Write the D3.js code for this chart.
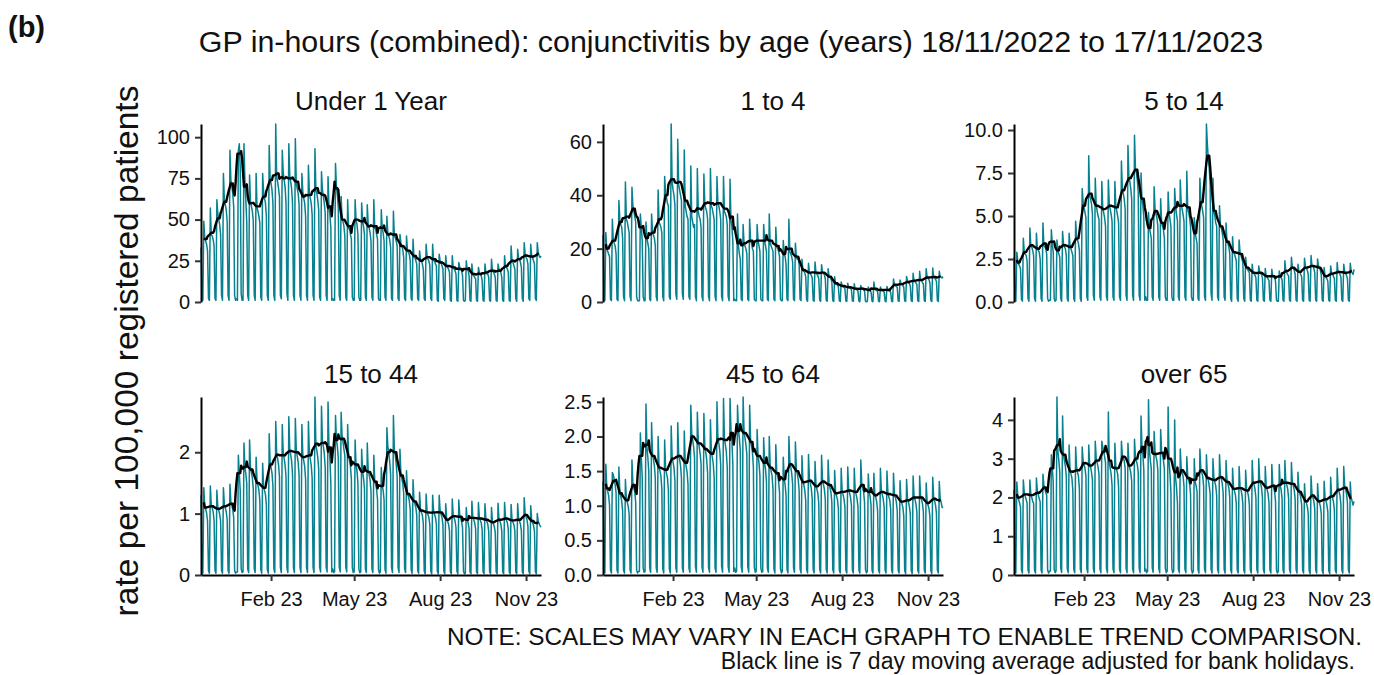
<!DOCTYPE html>
<html>
<head>
<meta charset="utf-8">
<script src="https://cdn.jsdelivr.net/npm/d3@7"></script>
<style>
  body { margin: 0; background: #fff; }
  svg text { font-family: "Liberation Sans", Arial, sans-serif; }
</style>
</head>
<body>
<svg id="chart" width="1374" height="675"></svg>
<script>
// Daily rates per 100,000 registered patients, 18/11/2022 to 17/11/2023.
// Rows: first line is Fri-Sun 18-20 Nov 2022, then one line per Mon..Sun week.
const startDate = "2022-11-18";
const bankHolidays = ["2022-12-25", "2022-12-26", "2022-12-27", "2023-01-02", "2023-04-07",
  "2023-04-10", "2023-05-01", "2023-05-08", "2023-05-29", "2023-08-28"];
const panelTitles = ["Under 1 Year", "1 to 4", "5 to 14", "15 to 44", "45 to 64", "over 65"];

const under1 = [
  33, 2, 1,
  49, 39, 37, 35, 31, 2, 1,
  57, 41, 40, 38, 34, 2, 1,
  62, 54, 50, 47, 41, 4, 1,
  78, 62, 59, 56, 49, 4, 1,
  92, 74, 70, 66, 58, 4, 1,
  2, 1, 92, 96, 82, 5, 1,
  1, 96, 74, 62, 48, 4, 1,
  77, 61, 58, 55, 49, 4, 1,
  78, 57, 55, 52, 48, 3, 1,
  78, 67, 63, 60, 52, 4, 1,
  95, 75, 72, 68, 60, 4, 1,
  108, 76, 73, 69, 64, 4, 2,
  92, 79, 74, 70, 60, 5, 1,
  96, 77, 73, 69, 60, 4, 1,
  99, 72, 69, 66, 59, 4, 1,
  78, 67, 63, 60, 52, 4, 1,
  83, 66, 63, 60, 53, 4, 1,
  93, 68, 66, 62, 56, 3, 1,
  79, 68, 64, 60, 54, 4, 1,
  76, 58, 53, 45, 1, 2, 1,
  1, 84, 70, 65, 57, 4, 1,
  64, 51, 49, 46, 40, 3, 1,
  62, 45, 44, 41, 38, 3, 1,
  1, 62, 50, 47, 41, 3, 1,
  1, 60, 49, 46, 41, 3, 1,
  59, 47, 45, 42, 37, 3, 1,
  62, 45, 44, 41, 38, 2, 1,
  1, 56, 45, 42, 37, 3, 1,
  52, 42, 40, 38, 33, 2, 1,
  55, 40, 39, 37, 34, 2, 1,
  41, 36, 34, 32, 27, 2, 1,
  40, 32, 30, 29, 25, 2, 1,
  38, 27, 27, 25, 23, 2, 1,
  31, 26, 25, 23, 20, 2, 1,
  35, 28, 26, 25, 22, 2, 1,
  35, 25, 25, 23, 22, 1, 0.5,
  29, 25, 24, 22, 20, 2, 1,
  28, 22, 21, 20, 18, 1, 0.5,
  28, 21, 20, 19, 17, 1, 0.5,
  24, 21, 20, 19, 16, 1, 0.5,
  1, 25, 20, 19, 16, 1, 0.5,
  23, 17, 16, 15, 14, 1, 0.5,
  21, 18, 17, 16, 13, 1, 0.5,
  23, 18, 17, 17, 15, 1, 0.5,
  26, 19, 18, 17, 15, 1, 0.5,
  23, 20, 19, 18, 15, 1, 0.5,
  28, 22, 21, 20, 18, 1, 0.5,
  34, 25, 24, 22, 20, 2, 0.5,
  32, 27, 26, 24, 21, 2, 0.5,
  36, 29, 27, 26, 23, 2, 1,
  35, 28, 27, 25, 23, 2, 1,
  36, 30, 28, 27, 28
];

const age1to4 = [
  25, 1, 0.5,
  26, 20, 19, 18, 17, 1, 0.5,
  31, 23, 22, 21, 18, 1, 0.5,
  38, 31, 29, 28, 24, 2, 0.5,
  45, 31, 30, 28, 26, 2, 0.5,
  43, 36, 34, 32, 30, 2, 0.5,
  0.5, 0.5, 33, 28, 23, 2, 0.5,
  0.5, 30, 24, 22, 20, 1, 0.5,
  33, 27, 25, 24, 21, 2, 0.5,
  42, 30, 29, 28, 26, 2, 0.5,
  47, 41, 39, 37, 36, 2, 1,
  66.7, 45, 42, 40, 36.3, 3, 1,
  61, 44, 42, 40, 38, 3, 1,
  57, 36, 34, 32, 31, 2, 1,
  51, 32, 30, 28, 29, 2, 0.5,
  50, 34, 32, 31, 28, 2, 0.5,
  48, 37, 35, 34, 31, 2, 0.5,
  50, 36, 35, 33, 31, 2, 0.5,
  47, 37, 36, 34, 31, 2, 0.5,
  47, 34, 33, 32, 29, 2, 0.5,
  46, 31, 28, 23, 0.5, 1, 0.5,
  0.5, 33, 21, 18, 16, 1, 0.5,
  29, 22, 21, 20, 18, 1, 0.5,
  31, 23, 22, 20, 19, 1, 0.5,
  0.5, 29, 23, 21, 19, 1, 0.5,
  0.5, 29, 23, 21, 19, 1, 0.5,
  33, 22, 21, 20, 19, 1, 0.5,
  28, 21, 20, 19, 17, 1, 0.5,
  0.5, 23, 18, 17, 14, 1, 0.5,
  31, 19, 18, 17, 15, 1, 0.5,
  22, 17, 16, 16, 14, 1, 0.5,
  16, 12, 11.5, 11, 9.5, 0.8, 0.3,
  14.5, 11, 10.5, 10, 9, 0.7, 0.3,
  15, 11, 10.5, 9.8, 8.7, 0.7, 0.3,
  14, 11.3, 10.8, 10.2, 8.7, 0.7, 0.3,
  12.5, 9.6, 9.2, 8.7, 7.5, 0.6, 0.2,
  9.5, 6.9, 6.6, 6.3, 5.7, 0.5, 0.2,
  7.5, 6.2, 5.8, 5.5, 5.0, 0.4, 0.2,
  7, 5.6, 5.3, 5.1, 4.5, 0.4, 0.2,
  6.8, 4.9, 4.8, 4.5, 4.0, 0.3, 0.1,
  6.2, 5.2, 4.9, 4.6, 4.1, 0.3, 0.1,
  0.2, 5.6, 4.5, 4.2, 3.7, 0.3, 0.1,
  7.5, 4.8, 4.5, 4.3, 3.9, 0.3, 0.1,
  5.6, 4.6, 4.4, 4.1, 3.8, 0.3, 0.1,
  5.8, 4.6, 4.4, 4.1, 3.6, 0.3, 0.1,
  8.6, 6.4, 6.2, 5.8, 5.5, 0.4, 0.2,
  8.2, 7.0, 6.6, 6.2, 5.5, 0.4, 0.2,
  9.6, 7.7, 7.3, 6.9, 6.0, 0.5, 0.2,
  10.8, 7.8, 7.6, 7.2, 6.6, 0.5, 0.2,
  11.5, 8.1, 7.8, 7.4, 6.7, 0.5, 0.2,
  12.5, 9.2, 8.8, 8.4, 7.1, 0.6, 0.2,
  12.7, 9.2, 8.9, 8.5, 7.7, 0.6, 0.2,
  11.5, 9.6, 9.3, 9.0, 9.5
];

const age5to14 = [
  2.6, 0.15, 0.05,
  2.9, 2.4, 2.2, 2.1, 1.9, 0.15, 0.05,
  3.7, 2.9, 2.8, 2.7, 2.4, 0.2, 0.05,
  4.3, 3.3, 3.2, 3.0, 2.7, 0.2, 0.05,
  4.0, 3.1, 3.0, 2.9, 2.5, 0.2, 0.05,
  4.6, 3.3, 3.2, 3.1, 2.8, 0.2, 0.05,
  0.1, 0.1, 4.2, 3.4, 2.9, 0.2, 0.05,
  0.1, 3.6, 3.0, 2.8, 2.6, 0.2, 0.05,
  4.1, 3.4, 3.2, 3.1, 2.7, 0.2, 0.05,
  4.0, 3.3, 3.1, 2.9, 2.7, 0.2, 0.05,
  4.7, 3.8, 3.6, 3.4, 3.0, 0.2, 0.05,
  6.6, 5.8, 5.5, 5.2, 4.9, 0.3, 0.1,
  8.5, 6.2, 6.0, 5.7, 5.1, 0.4, 0.1,
  7.2, 5.7, 5.3, 5.0, 4.8, 0.3, 0.1,
  7.0, 5.5, 5.2, 4.9, 4.4, 0.3, 0.1,
  7.1, 5.7, 5.4, 5.1, 4.7, 0.3, 0.1,
  7.0, 5.6, 5.3, 5.0, 4.6, 0.3, 0.1,
  8.2, 6.6, 6.3, 6.0, 5.4, 0.4, 0.1,
  9.1, 7.3, 7.0, 6.6, 6.0, 0.4, 0.1,
  9.7, 7.8, 7.5, 7.1, 6.4, 0.4, 0.1,
  7.5, 6.0, 5.6, 4.9, 0.1, 0.3, 0.1,
  0.1, 5.2, 4.3, 4.0, 3.7, 0.3, 0.1,
  6.7, 5.4, 5.1, 4.9, 4.4, 0.3, 0.1,
  6.0, 4.7, 4.4, 4.2, 3.7, 0.3, 0.1,
  0.1, 6.4, 5.2, 4.8, 4.4, 0.3, 0.1,
  0.1, 6.6, 5.6, 5.1, 4.7, 0.3, 0.1,
  7.1, 5.7, 5.4, 5.1, 4.7, 0.3, 0.1,
  7.6, 5.4, 5.2, 4.9, 4.4, 0.3, 0.1,
  0.1, 4.9, 4.0, 3.7, 3.4, 0.2, 0.1,
  7.2, 6.0, 5.6, 5.3, 4.9, 0.3, 0.1,
  10.35, 9.2, 8.3, 7.8, 6.85, 0.5, 0.1,
  7.2, 5.3, 5.0, 4.6, 4.4, 0.3, 0.1,
  5.6, 4.5, 4.3, 4.0, 3.6, 0.3, 0.1,
  4.6, 3.5, 3.4, 3.2, 2.8, 0.2, 0.05,
  3.8, 2.9, 2.8, 2.6, 2.4, 0.2, 0.05,
  3.6, 2.9, 2.7, 2.5, 2.3, 0.2, 0.05,
  2.6, 2.0, 1.9, 1.8, 1.7, 0.1, 0.05,
  2.2, 1.7, 1.65, 1.55, 1.4, 0.1, 0.05,
  2.1, 1.75, 1.65, 1.6, 1.4, 0.1, 0.05,
  1.95, 1.5, 1.45, 1.35, 1.25, 0.1, 0.05,
  1.9, 1.55, 1.45, 1.4, 1.2, 0.1, 0.05,
  0.05, 1.8, 1.5, 1.4, 1.3, 0.1, 0.05,
  2.4, 1.8, 1.7, 1.6, 1.5, 0.1, 0.05,
  2.6, 2.0, 1.95, 1.85, 1.6, 0.1, 0.05,
  2.2, 1.8, 1.7, 1.6, 1.45, 0.1, 0.05,
  2.55, 2.05, 1.95, 1.85, 1.6, 0.1, 0.05,
  2.7, 2.1, 2.05, 1.95, 1.7, 0.1, 0.05,
  2.5, 2.1, 2.0, 1.85, 1.55, 0.1, 0.05,
  2.0, 1.5, 1.45, 1.35, 1.2, 0.1, 0.05,
  2.1, 1.7, 1.6, 1.5, 1.35, 0.1, 0.05,
  2.3, 1.7, 1.7, 1.6, 1.45, 0.1, 0.05,
  2.2, 1.75, 1.65, 1.55, 1.35, 0.1, 0.05,
  2.25, 1.8, 1.7, 1.6, 1.9
];

const age15to44 = [
  1.3, 0.08, 0.03,
  1.42, 1.12, 1.07, 1.01, 0.88, 0.07, 0.03,
  1.45, 1.14, 1.09, 1.03, 0.89, 0.07, 0.03,
  1.38, 1.10, 1.05, 0.99, 0.88, 0.07, 0.03,
  1.42, 1.15, 1.09, 1.03, 0.91, 0.07, 0.03,
  1.48, 1.18, 1.13, 1.07, 0.94, 0.07, 0.03,
  0.05, 0.05, 1.95, 1.65, 1.38, 0.1, 0.04,
  0.05, 2.15, 1.75, 1.65, 1.49, 0.1, 0.04,
  2.2, 1.75, 1.67, 1.58, 1.4, 0.1, 0.04,
  1.92, 1.53, 1.46, 1.38, 1.21, 0.09, 0.03,
  1.82, 1.45, 1.38, 1.31, 1.14, 0.09, 0.03,
  2.3, 1.84, 1.75, 1.66, 1.45, 0.1, 0.04,
  2.5, 2.0, 1.9, 1.8, 1.6, 0.12, 0.04,
  2.45, 2.0, 1.9, 1.8, 1.6, 0.12, 0.04,
  2.58, 2.06, 1.96, 1.86, 1.64, 0.12, 0.04,
  2.55, 2.04, 1.94, 1.84, 1.63, 0.12, 0.04,
  2.45, 1.96, 1.86, 1.77, 1.56, 0.12, 0.04,
  2.5, 1.99, 1.89, 1.79, 1.58, 0.12, 0.04,
  2.9, 2.12, 2.03, 1.92, 1.73, 0.13, 0.05,
  2.75, 2.19, 2.09, 1.98, 1.74, 0.13, 0.05,
  2.82, 2.1, 1.9, 1.5, 0.05, 0.1, 0.04,
  0.05, 2.6, 2.2, 2.1, 1.9, 0.13, 0.05,
  2.65, 2.28, 2.17, 2.05, 1.95, 0.13, 0.05,
  2.45, 1.96, 1.86, 1.77, 1.56, 0.12, 0.04,
  0.05, 2.2, 1.8, 1.7, 1.5, 0.1, 0.04,
  0.05, 2.05, 1.68, 1.58, 1.41, 0.1, 0.04,
  2.15, 1.71, 1.63, 1.55, 1.36, 0.1, 0.04,
  1.95, 1.55, 1.47, 1.40, 1.23, 0.09, 0.03,
  0.05, 1.75, 1.45, 1.38, 1.22, 0.09, 0.03,
  2.4, 2.1, 2.0, 1.85, 1.65, 0.12, 0.04,
  2.6, 2.05, 1.95, 1.8, 1.6, 0.12, 0.04,
  2.05, 1.66, 1.57, 1.49, 1.33, 0.1, 0.04,
  1.7, 1.35, 1.28, 1.21, 1.06, 0.08, 0.03,
  1.55, 1.22, 1.16, 1.10, 0.97, 0.07, 0.03,
  1.35, 1.07, 1.02, 0.97, 0.84, 0.06, 0.02,
  1.32, 1.04, 0.99, 0.93, 0.82, 0.06, 0.02,
  1.3, 1.04, 0.99, 0.94, 0.83, 0.06, 0.02,
  1.3, 1.05, 0.99, 0.94, 0.82, 0.06, 0.02,
  1.16, 0.92, 0.87, 0.83, 0.72, 0.05, 0.02,
  1.24, 0.98, 0.93, 0.88, 0.77, 0.06, 0.02,
  1.22, 0.97, 0.92, 0.87, 0.77, 0.06, 0.02,
  0.03, 1.1, 0.9, 0.85, 0.75, 0.05, 0.02,
  1.2, 0.95, 0.9, 0.85, 0.75, 0.05, 0.02,
  1.18, 0.94, 0.89, 0.85, 0.74, 0.05, 0.02,
  1.16, 0.92, 0.87, 0.83, 0.72, 0.05, 0.02,
  1.1, 0.88, 0.83, 0.79, 0.7, 0.05, 0.02,
  1.17, 0.91, 0.87, 0.83, 0.72, 0.05, 0.02,
  1.18, 0.94, 0.89, 0.85, 0.74, 0.05, 0.02,
  1.15, 0.9, 0.86, 0.82, 0.72, 0.05, 0.02,
  1.16, 0.92, 0.87, 0.83, 0.72, 0.05, 0.02,
  1.26, 1.0, 0.95, 0.9, 0.79, 0.06, 0.02,
  1.13, 0.9, 0.85, 0.81, 0.71, 0.05, 0.02,
  1.0, 0.88, 0.84, 0.8, 0.78
];

const age45to64 = [
  1.35, 0.08, 0.03,
  1.6, 1.28, 1.21, 1.15, 1.01, 0.07, 0.03,
  1.48, 1.45, 1.38, 1.3, 1.19, 0.07, 0.03,
  1.56, 1.2, 1.14, 1.07, 0.93, 0.07, 0.03,
  1.38, 1.1, 1.05, 0.99, 0.88, 0.07, 0.03,
  1.66, 1.33, 1.26, 1.2, 1.05, 0.07, 0.03,
  0.05, 0.05, 2.05, 1.7, 1.41, 0.1, 0.04,
  0.05, 2.47, 1.85, 1.7, 1.5, 0.1, 0.04,
  2.2, 1.75, 1.67, 1.58, 1.4, 0.1, 0.04,
  2.0, 1.58, 1.5, 1.43, 1.24, 0.09, 0.03,
  1.95, 1.55, 1.47, 1.4, 1.23, 0.09, 0.03,
  2.15, 1.71, 1.63, 1.55, 1.36, 0.1, 0.04,
  2.2, 1.75, 1.67, 1.58, 1.4, 0.1, 0.04,
  2.08, 1.65, 1.57, 1.49, 1.31, 0.1, 0.04,
  2.45, 2.05, 1.95, 1.85, 1.7, 0.12, 0.04,
  2.35, 1.95, 1.85, 1.75, 1.6, 0.11, 0.04,
  2.33, 1.86, 1.77, 1.67, 1.47, 0.11, 0.04,
  2.24, 1.79, 1.7, 1.61, 1.41, 0.1, 0.04,
  2.5, 2.0, 1.9, 1.8, 1.6, 0.12, 0.04,
  2.55, 1.98, 1.88, 1.78, 1.56, 0.12, 0.04,
  2.55, 2.1, 1.95, 1.6, 0.05, 0.1, 0.04,
  0.05, 2.45, 2.1, 1.98, 1.79, 0.12, 0.04,
  2.57, 2.08, 1.98, 1.88, 1.74, 0.12, 0.04,
  2.45, 1.96, 1.86, 1.77, 1.56, 0.11, 0.04,
  0.05, 2.1, 1.72, 1.62, 1.44, 0.1, 0.04,
  0.05, 1.98, 1.62, 1.53, 1.35, 0.1, 0.04,
  2.0, 1.58, 1.5, 1.43, 1.24, 0.09, 0.03,
  1.88, 1.5, 1.43, 1.35, 1.19, 0.09, 0.03,
  0.05, 1.7, 1.38, 1.3, 1.14, 0.08, 0.03,
  2.0, 1.65, 1.56, 1.47, 1.32, 0.1, 0.04,
  1.92, 1.53, 1.46, 1.38, 1.21, 0.09, 0.03,
  1.72, 1.37, 1.3, 1.23, 1.08, 0.08, 0.03,
  1.74, 1.39, 1.32, 1.25, 1.1, 0.08, 0.03,
  1.64, 1.31, 1.24, 1.18, 1.03, 0.08, 0.03,
  1.73, 1.38, 1.31, 1.24, 1.09, 0.08, 0.03,
  1.66, 1.33, 1.26, 1.2, 1.05, 0.08, 0.03,
  1.51, 1.2, 1.14, 1.09, 0.96, 0.07, 0.03,
  1.54, 1.22, 1.16, 1.1, 0.98, 0.07, 0.03,
  1.56, 1.24, 1.18, 1.12, 1.0, 0.07, 0.03,
  1.54, 1.22, 1.16, 1.1, 0.98, 0.07, 0.03,
  1.66, 1.33, 1.26, 1.2, 1.05, 0.08, 0.03,
  0.05, 1.46, 1.2, 1.13, 1.01, 0.07, 0.03,
  1.47, 1.17, 1.12, 1.06, 0.93, 0.07, 0.03,
  1.54, 1.22, 1.16, 1.1, 0.98, 0.07, 0.03,
  1.5, 1.19, 1.13, 1.08, 0.95, 0.07, 0.03,
  1.47, 1.17, 1.12, 1.06, 0.93, 0.07, 0.03,
  1.36, 1.08, 1.03, 0.98, 0.85, 0.06, 0.02,
  1.38, 1.1, 1.05, 0.99, 0.88, 0.06, 0.02,
  1.43, 1.14, 1.09, 1.03, 0.91, 0.07, 0.03,
  1.43, 1.14, 1.09, 1.03, 0.91, 0.07, 0.03,
  1.33, 1.06, 1.01, 0.96, 0.84, 0.06, 0.02,
  1.41, 1.12, 1.07, 1.01, 0.89, 0.07, 0.03,
  1.35, 1.1, 1.05, 0.98, 0.97
];

const over65 = [
  2.2, 0.12, 0.05,
  2.4, 2.05, 1.95, 1.85, 1.75, 0.12, 0.05,
  2.45, 2.12, 2.03, 1.95, 1.85, 0.12, 0.05,
  2.45, 2.1, 2.0, 1.9, 1.85, 0.12, 0.05,
  2.5, 2.17, 2.07, 1.97, 1.89, 0.12, 0.05,
  2.6, 2.3, 2.22, 2.12, 2.06, 0.13, 0.05,
  0.1, 0.1, 3.1, 2.75, 2.4, 0.15, 0.06,
  0.1, 4.59, 3.2, 2.95, 2.66, 0.18, 0.07,
  4.1, 3.1, 2.95, 2.8, 2.55, 0.17, 0.06,
  3.35, 2.72, 2.6, 2.5, 2.18, 0.15, 0.06,
  3.3, 2.78, 2.65, 2.55, 2.22, 0.15, 0.06,
  3.3, 2.95, 2.85, 2.75, 2.55, 0.16, 0.06,
  3.35, 2.88, 2.78, 2.65, 2.44, 0.16, 0.06,
  3.45, 3.02, 2.9, 2.78, 2.6, 0.16, 0.06,
  3.45, 3.3, 3.2, 3.05, 2.9, 0.17, 0.06,
  4.2, 2.9, 2.75, 2.6, 2.3, 0.16, 0.06,
  3.4, 2.8, 2.7, 2.6, 2.25, 0.15, 0.06,
  3.45, 3.1, 3.0, 2.95, 2.75, 0.17, 0.06,
  3.4, 2.88, 2.75, 2.65, 2.42, 0.16, 0.06,
  3.5, 3.05, 2.95, 2.85, 2.65, 0.17, 0.06,
  4.1, 3.3, 3.1, 2.7, 0.1, 0.15, 0.06,
  0.1, 4.52, 3.2, 2.95, 2.73, 0.18, 0.07,
  3.7, 3.2, 3.05, 2.95, 2.7, 0.17, 0.06,
  3.75, 3.22, 3.1, 2.95, 2.73, 0.17, 0.06,
  0.1, 4.33, 2.95, 2.6, 2.12, 0.16, 0.06,
  0.1, 4.0, 2.5, 2.25, 1.85, 0.15, 0.06,
  3.25, 2.75, 2.65, 2.55, 2.3, 0.15, 0.06,
  3.05, 2.55, 2.45, 2.35, 2.1, 0.14, 0.05,
  0.1, 3.0, 2.4, 2.3, 2.14, 0.14, 0.05,
  3.25, 2.75, 2.65, 2.55, 2.3, 0.15, 0.06,
  3.1, 2.55, 2.45, 2.3, 2.1, 0.14, 0.05,
  3.0, 2.5, 2.4, 2.3, 2.05, 0.14, 0.05,
  3.1, 2.58, 2.48, 2.35, 2.09, 0.14, 0.05,
  2.95, 2.45, 2.35, 2.25, 2.0, 0.13, 0.05,
  2.75, 2.27, 2.17, 2.07, 1.84, 0.13, 0.05,
  2.8, 2.28, 2.2, 2.08, 1.84, 0.13, 0.05,
  2.7, 2.22, 2.14, 2.04, 1.8, 0.13, 0.05,
  2.95, 2.42, 2.33, 2.22, 1.98, 0.14, 0.05,
  3.0, 2.45, 2.36, 2.25, 1.99, 0.14, 0.05,
  2.8, 2.3, 2.2, 2.1, 1.85, 0.13, 0.05,
  2.85, 2.35, 2.25, 2.15, 1.9, 0.13, 0.05,
  0.1, 2.85, 2.3, 2.2, 1.97, 0.13, 0.05,
  2.95, 2.42, 2.33, 2.22, 1.98, 0.14, 0.05,
  2.9, 2.4, 2.3, 2.2, 1.95, 0.14, 0.05,
  2.65, 2.2, 2.1, 2.0, 1.8, 0.13, 0.05,
  2.35, 1.94, 1.86, 1.77, 1.58, 0.11, 0.04,
  2.55, 2.09, 2.0, 1.91, 1.7, 0.12, 0.05,
  2.35, 1.94, 1.86, 1.77, 1.58, 0.11, 0.04,
  2.42, 1.99, 1.91, 1.81, 1.62, 0.11, 0.04,
  2.52, 2.07, 1.99, 1.89, 1.68, 0.12, 0.05,
  2.75, 2.24, 2.15, 2.05, 1.81, 0.13, 0.05,
  2.8, 2.3, 2.2, 2.1, 1.85, 0.13, 0.05,
  2.4, 2.0, 1.9, 1.8, 1.9
];

const yTickValues = [
  [0, 25, 50, 75, 100],
  [0, 20, 40, 60],
  [0, 2.5, 5, 7.5, 10],
  [0, 1, 2],
  [0, 0.5, 1, 1.5, 2, 2.5],
  [0, 1, 2, 3, 4]
];
const yTickFormats = ["d", "d", ".1f", "d", ".1f", "d"];
const xTickDates = ["2023-02-01", "2023-05-01", "2023-08-01", "2023-11-01"];
const xTickLabels = ["Feb 23", "May 23", "Aug 23", "Nov 23"];

const series = [under1, age1to4, age5to14, age15to44, age45to64, over65];

// ---- layout ----
const colRanges = [[201, 541], [603, 943], [1014, 1354]];
const rowRanges = [[124, 302], [397, 575]];
const teal = "#07818f";
const textColor = "#111";

const svg = d3.select("#chart");
const parse = d3.utcParse("%Y-%m-%d");
const keyFmt = d3.utcFormat("%Y-%m-%d");
const t0 = parse(startDate);
const holidaySet = new Set(bankHolidays);
const isWorkingDay = d => {
  const w = d.getUTCDay();
  return w !== 0 && w !== 6 && !holidaySet.has(keyFmt(d));
};

// Title and panel tag
svg.append("text").attr("x", 8).attr("y", 37)
  .attr("font-size", 29).attr("font-weight", "bold").attr("fill", textColor)
  .text("(b)");
svg.append("text").attr("x", 731).attr("y", 52).attr("text-anchor", "middle")
  .attr("font-size", 30.4).attr("fill", textColor)
  .text("GP in-hours (combined): conjunctivitis by age (years) 18/11/2022 to 17/11/2023");

// Shared y label
svg.append("text")
  .attr("transform", "translate(138,351) rotate(-90)")
  .attr("text-anchor", "middle").attr("font-size", 33.5).attr("fill", textColor)
  .text("rate per 100,000 registered patients");

series.forEach((vals, p) => {
  const [x0, x1] = colRanges[p % 3];
  const [y0, y1] = rowRanges[Math.floor(p / 3)];
  const dates = vals.map((_, i) => d3.utcDay.offset(t0, i));
  const x = d3.scaleUtc().domain([dates[0], dates[dates.length - 1]]).range([x0, x1]);
  const y = d3.scaleLinear().domain([0, d3.max(vals)]).range([y1, y0]);

  // centred 7-day mean over working days (weekends and bank holidays left out)
  const ma = [];
  for (let i = 3; i < vals.length - 3; i++) {
    const win = [];
    for (let j = i - 3; j <= i + 3; j++) if (isWorkingDay(dates[j])) win.push(vals[j]);
    ma.push({ d: dates[i], v: d3.mean(win) });
  }

  const g = svg.append("g");

  g.append("path")
    .datum(vals.map((v, i) => ({ d: dates[i], v })))
    .attr("fill", "none").attr("stroke", teal).attr("stroke-width", 1.5)
    .attr("stroke-linejoin", "round")
    .attr("d", d3.line().x(d => x(d.d)).y(d => y(d.v)));

  g.append("path")
    .datum(ma)
    .attr("fill", "none").attr("stroke", "#000").attr("stroke-width", 2.4)
    .attr("stroke-linejoin", "round")
    .attr("d", d3.line().x(d => x(d.d)).y(d => y(d.v)));

  // y axis
  const yAxis = d3.axisLeft(y)
    .tickValues(yTickValues[p])
    .tickFormat(d3.format(yTickFormats[p]))
    .tickSizeInner(6).tickSizeOuter(0).tickPadding(5);
  const ya = g.append("g").attr("transform", `translate(${x0},0)`).call(yAxis);
  ya.select(".domain").attr("stroke", "#000").attr("stroke-width", 2);
  ya.selectAll(".tick line").attr("stroke", "#333").attr("stroke-width", 2);
  ya.selectAll(".tick text").attr("font-size", 20).attr("fill", textColor)
    .attr("font-family", "Liberation Sans, Arial, sans-serif");

  // x axis on the bottom row only
  if (p >= 3) {
    const xAxis = d3.axisBottom(x)
      .tickValues(xTickDates.map(parse))
      .tickFormat((d, i) => xTickLabels[i])
      .tickSizeInner(6).tickSizeOuter(0).tickPadding(11);
    const xa = g.append("g").attr("transform", `translate(0,${y1})`).call(xAxis);
    xa.select(".domain").attr("stroke", "#000").attr("stroke-width", 2);
    xa.selectAll(".tick line").attr("stroke", "#333").attr("stroke-width", 2);
    xa.selectAll(".tick text").attr("font-size", 20).attr("fill", textColor)
      .attr("font-family", "Liberation Sans, Arial, sans-serif");
  }

  // strip title
  g.append("text").attr("x", (x0 + x1) / 2).attr("y", y0 - 14)
    .attr("text-anchor", "middle").attr("font-size", 26).attr("fill", textColor)
    .text(panelTitles[p]);
});

// Notes
svg.append("text").attr("x", 1362).attr("y", 645).attr("text-anchor", "end")
  .attr("font-size", 23).attr("fill", textColor)
  .attr("textLength", 915).attr("lengthAdjust", "spacingAndGlyphs")
  .text("NOTE: SCALES MAY VARY IN EACH GRAPH TO ENABLE TREND COMPARISON.");
svg.append("text").attr("x", 1355).attr("y", 669).attr("text-anchor", "end")
  .attr("font-size", 23).attr("fill", textColor)
  .text("Black line is 7 day moving average adjusted for bank holidays.");
</script>
</body>
</html>
